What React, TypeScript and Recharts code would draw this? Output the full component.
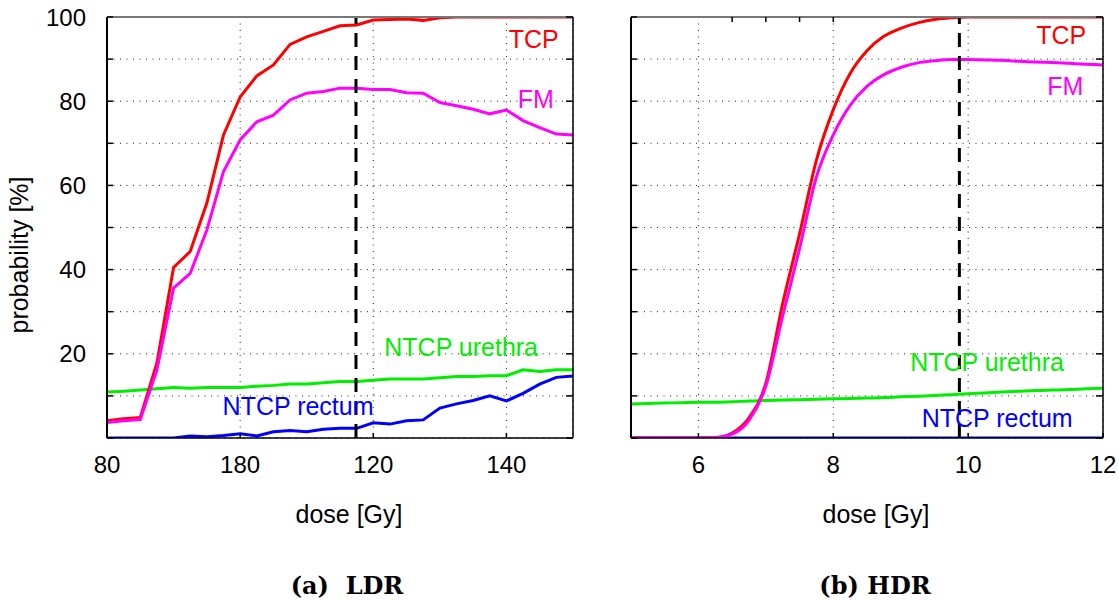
import React from 'react';
import {
  LineChart,
  Line,
  XAxis,
  YAxis,
  CartesianGrid,
  ReferenceLine,
  ReferenceDot,
} from 'recharts';

const FONT = '"Liberation Sans", Arial, Helvetica, sans-serif';
const RED = '#ff0000';
const MAGENTA = '#ff00ff';
const GREEN = '#00ee00';
const BLUE = '#0000ff';

// LDR: dose in Gy, probabilities in %
const ldrDose = [80, 82.5, 85, 87.5, 90, 92.5, 95, 97.5, 100, 102.5, 105, 107.5, 110, 112.5, 115, 117.5, 120, 122.5, 125, 127.5, 130, 132.5, 135, 137.5, 140, 142.5, 145, 147.5, 150];
const ldrTcp = [4.1, 4.6, 4.9, 17.8, 40.5, 44.3, 55.8, 72, 81, 86, 88.6, 93.5, 95.3, 96.6, 97.9, 98.1, 99.3, 99.4, 99.5, 99.2, 99.8, 100, 100, 100, 100, 100, 100, 100, 100];
const ldrFm = [3.7, 4.1, 4.4, 16.2, 35.6, 39.1, 49.4, 63.3, 70.8, 75.1, 76.7, 80.3, 81.9, 82.3, 83.1, 83.1, 82.8, 82.8, 82, 81.9, 79.7, 78.9, 78.1, 77, 77.9, 75.4, 73.7, 72.2, 72];
const ldrUrethra = [10.9, 11.1, 11.4, 11.7, 12.0, 11.8, 12.0, 12.0, 12.0, 12.3, 12.5, 12.8, 12.8, 13.1, 13.4, 13.4, 13.7, 14.0, 14.0, 14.0, 14.3, 14.6, 14.6, 14.8, 14.8, 16.2, 15.8, 16.2, 16.2];
const ldrRectum = [0, 0, 0, 0, 0, 0.5, 0.3, 0.6, 1, 0.5, 1.5, 1.8, 1.5, 2.1, 2.3, 2.3, 3.6, 3.3, 4.1, 4.3, 7.1, 8.1, 8.9, 10, 8.8, 10.6, 12.8, 14.4, 14.7];
const ldrXTicks = [80, 100, 120, 140];
const ldrXTickLabels = ['80', '180', '120', '140'];
const ldrPlanDose = 117.4;

// HDR: dose per fraction in Gy
const hdrDose = [5, 5.25, 5.5, 5.75, 6, 6.25, 6.5, 6.75, 7, 7.25, 7.5, 7.75, 8, 8.25, 8.5, 8.75, 9, 9.25, 9.5, 9.75, 10, 10.25, 10.5, 10.75, 11, 11.25, 11.5, 11.75, 12];
const hdrTcp = [0, 0, 0, 0, 0, 0.1, 1.2, 4.8, 13, 32, 48.5, 66, 78, 86.6, 92, 95.4, 97.3, 98.6, 99.4, 99.8, 100, 100, 100, 100, 100, 100, 100, 100, 100];
const hdrFm = [0, 0, 0, 0, 0, 0.05, 0.9, 4.2, 12.3, 29, 45, 62, 72, 79, 83.5, 86.3, 88, 89.1, 89.6, 89.9, 89.9, 89.8, 89.7, 89.5, 89.3, 89.2, 89, 88.8, 88.6];
const hdrUrethra = [8.1, 8.2, 8.3, 8.4, 8.5, 8.5, 8.6, 8.8, 8.9, 9.0, 9.1, 9.2, 9.3, 9.4, 9.5, 9.6, 9.8, 9.9, 10.1, 10.3, 10.5, 10.7, 10.9, 11.1, 11.3, 11.4, 11.5, 11.7, 11.8];
const hdrRectum = [0, 0, 0, 0, 0, 0, 0, 0, 0, 0, 0, 0, 0, 0, 0, 0, 0, 0, 0, 0, 0, 0, 0, 0, 0, 0, 0, 0, 0];
const hdrXTicks = [6, 8, 10, 12];
const hdrXTickLabels = ['6', '8', '10', '12'];
const hdrPlanDose = 9.87;

const yTicks = [0, 10, 20, 30, 40, 50, 60, 70, 80, 90, 100];
const yTickLabels = ['', '', '20', '', '40', '', '60', '', '80', '', '100'];
const noYTickLabels = ['', '', '', '', '', '', '', '', '', '', ''];

type Note = { text: string; x: number; y: number; color: string };

const ldrNotes: Note[] = [
  { text: 'TCP', x: 144.1, y: 94.8, color: RED },
  { text: 'FM', x: 144.4, y: 80.5, color: MAGENTA },
  { text: 'NTCP urethra', x: 133.2, y: 21.6, color: GREEN },
  { text: 'NTCP rectum', x: 108.7, y: 7.6, color: BLUE },
];

const hdrNotes: Note[] = [
  { text: 'TCP', x: 11.38, y: 95.7, color: RED },
  { text: 'FM', x: 11.44, y: 83.6, color: MAGENTA },
  { text: 'NTCP urethra', x: 10.28, y: 18, color: GREEN },
  { text: 'NTCP rectum', x: 10.43, y: 4.75, color: BLUE },
];

const buildRows = (dose: number[], tcp: number[], fm: number[], urethra: number[], rectum: number[]) =>
  dose.map((d, i) => ({ dose: d, tcp: tcp[i], fm: fm[i], urethra: urethra[i], rectum: rectum[i] }));

const ldrRows = buildRows(ldrDose, ldrTcp, ldrFm, ldrUrethra, ldrRectum);
const hdrRows = buildRows(hdrDose, hdrTcp, hdrFm, hdrUrethra, hdrRectum);

// ticks point into the plot, like the original axes
const LeftTick = (props: any) => {
  const { x, y, index, labels } = props;
  return (
    <g>
      <line x1={x} x2={x + 6} y1={y} y2={y} stroke="#000" strokeWidth={1.5} />
      {labels[index] ? (
        <text x={x - 21} y={y + 8.5} textAnchor="end" fontFamily={FONT} fontSize={24} fill="#000">
          {labels[index]}
        </text>
      ) : null}
    </g>
  );
};

const BottomTick = (props: any) => {
  const { x, y, index, labels } = props;
  return (
    <g>
      <line x1={x} x2={x} y1={y} y2={y - 5} stroke="#000" strokeWidth={1.5} />
      <text x={x} y={y + 35} textAnchor="middle" fontFamily={FONT} fontSize={24} fill="#000">
        {labels[index]}
      </text>
    </g>
  );
};

const TopTick = (props: any) => (
  <line x1={props.x} x2={props.x} y1={props.y} y2={props.y + 5} stroke="#000" strokeWidth={1.5} />
);

const RightTick = (props: any) => (
  <line x1={props.x} x2={props.x - 7} y1={props.y} y2={props.y} stroke="#000" strokeWidth={1.5} />
);

const YTitle = (props: any) => {
  const { x, y, height } = props.viewBox;
  const cx = x + 28;
  const cy = y + height / 2 + 27.5;
  return (
    <text x={cx} y={cy} transform={`rotate(-90 ${cx} ${cy})`} textAnchor="middle" fontFamily={FONT} fontSize={25} fill="#000">
      probability [%]
    </text>
  );
};

const XTitle = (props: any) => {
  const { x, y, width } = props.viewBox;
  return (
    <text x={x + width / 2 + 9} y={y + 85} textAnchor="middle" fontFamily={FONT} fontSize={25} fill="#000">
      dose [Gy]
    </text>
  );
};

interface PanelProps {
  left: number;
  width: number;
  yAxisWidth: number;
  rows: ReturnType<typeof buildRows>;
  domain: [number, number];
  xTicks: number[];
  xTickLabels: string[];
  yLabels: string[];
  planDose: number;
  notes: Note[];
  curve: 'linear' | 'monotone';
  showYTitle: boolean;
}

const Panel: React.FC<PanelProps> = ({
  left,
  width,
  yAxisWidth,
  rows,
  domain,
  xTicks,
  xTickLabels,
  yLabels,
  planDose,
  notes,
  curve,
  showYTitle,
}) => (
  <div style={{ position: 'absolute', left, top: 0 }}>
    <LineChart width={width} height={545} data={rows} margin={{ top: 16, right: 16, bottom: 0, left: 0 }}>
      <CartesianGrid stroke="#222" strokeDasharray="1 5.5" />
      <XAxis
        dataKey="dose"
        type="number"
        domain={domain}
        ticks={xTicks}
        interval={0}
        allowDataOverflow
        height={107}
        tickSize={0}
        tickMargin={0}
        axisLine={{ stroke: '#000', strokeWidth: 1.5 }}
        tick={(p: any) => <BottomTick {...p} labels={xTickLabels} />}
        label={{ content: XTitle }}
      />
      <XAxis
        xAxisId="top"
        orientation="top"
        type="number"
        domain={domain}
        ticks={xTicks}
        interval={0}
        allowDataOverflow
        height={1}
        tickSize={0}
        tickMargin={0}
        axisLine={{ stroke: '#777', strokeWidth: 2 }}
        tick={TopTick}
      />
      <YAxis
        type="number"
        domain={[0, 100]}
        ticks={yTicks}
        interval={0}
        allowDataOverflow
        width={yAxisWidth}
        tickSize={0}
        tickMargin={0}
        axisLine={{ stroke: '#000', strokeWidth: 2 }}
        tick={(p: any) => <LeftTick {...p} labels={yLabels} />}
        label={showYTitle ? { content: YTitle } : undefined}
      />
      <YAxis
        yAxisId="right"
        orientation="right"
        type="number"
        domain={[0, 100]}
        ticks={yTicks}
        interval={0}
        allowDataOverflow
        width={1}
        tickSize={0}
        tickMargin={0}
        axisLine={{ stroke: '#000', strokeWidth: 1.5 }}
        tick={RightTick}
      />
      <Line type={curve} dataKey="rectum" stroke={BLUE} strokeWidth={3} dot={false} isAnimationActive={false} />
      <Line type={curve} dataKey="urethra" stroke={GREEN} strokeWidth={3} dot={false} isAnimationActive={false} />
      <Line type={curve} dataKey="tcp" stroke={RED} strokeWidth={3} dot={false} isAnimationActive={false} />
      <Line type={curve} dataKey="fm" stroke={MAGENTA} strokeWidth={3} dot={false} isAnimationActive={false} />
      <ReferenceLine x={planDose} stroke="#000" strokeWidth={3} strokeDasharray="14 9" />
      {notes.map((n) => (
        <ReferenceDot
          key={n.text}
          x={n.x}
          y={n.y}
          r={1}
          fill="none"
          stroke="none"
          label={{ value: n.text, position: 'center', fill: n.color, fontSize: 25, fontFamily: FONT }}
        />
      ))}
    </LineChart>
  </div>
);

export default function App() {
  return (
    <div style={{ position: 'absolute', left: 0, top: 0, width: 1119, height: 601, background: '#fff', overflow: 'hidden' }}>
      <Panel
        left={0}
        width={590}
        yAxisWidth={107}
        rows={ldrRows}
        domain={[80, 150]}
        xTicks={ldrXTicks}
        xTickLabels={ldrXTickLabels}
        yLabels={yTickLabels}
        planDose={ldrPlanDose}
        notes={ldrNotes}
        curve="linear"
        showYTitle
      />
      <Panel
        left={600}
        width={520}
        yAxisWidth={31}
        rows={hdrRows}
        domain={[5, 12]}
        xTicks={hdrXTicks}
        xTickLabels={hdrXTickLabels}
        yLabels={noYTickLabels}
        planDose={hdrPlanDose}
        notes={hdrNotes}
        curve="monotone"
        showYTitle={false}
      />
      <svg width={1119} height={601} style={{ position: 'absolute', left: 0, top: 0, pointerEvents: 'none' }}>
        <text x={347} y={594} textAnchor="middle" fontFamily='"DejaVu Serif", serif' fontWeight="bold" fontSize={24} style={{ whiteSpace: 'pre' }}>
          (a)  LDR
        </text>
        <text x={875} y={594} textAnchor="middle" fontFamily='"DejaVu Serif", serif' fontWeight="bold" fontSize={24}>
          (b) HDR
        </text>
      </svg>
    </div>
  );
}
